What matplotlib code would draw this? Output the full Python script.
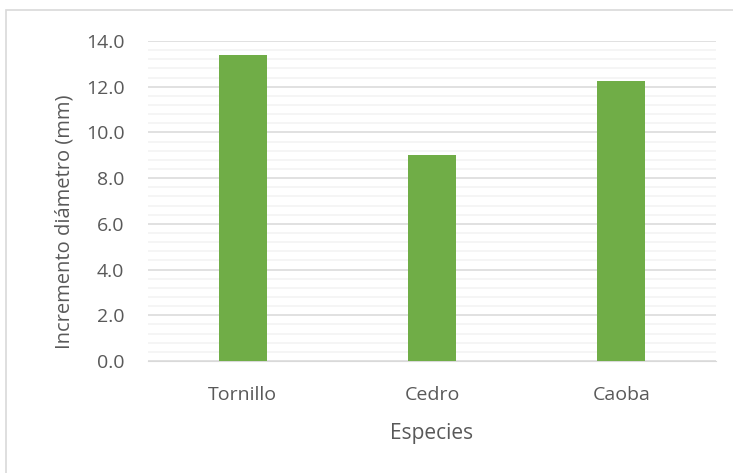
import matplotlib.pyplot as plt
from matplotlib.patches import Rectangle
from matplotlib.ticker import MultipleLocator

especies = ['Tornillo', 'Cedro', 'Caoba']
incremento = [13.4, 9.0, 12.25]

plt.rcParams['font.family'] = ['Open Sans', 'DejaVu Sans']

fig = plt.figure(figsize=(7.33, 4.73), dpi=100)
ax = fig.add_axes([0.2019, 0.2368, 0.7749, 0.6765])

# chart border
fig.patches.append(Rectangle((6 / 733, -0.1), 1.0, 1 - 10 / 473 + 0.1,
                             transform=fig.transFigure, fill=False,
                             edgecolor='#d9d9d9', linewidth=1.2))

x = range(len(especies))
ax.bar(x, incremento, width=0.255, color='#70ad47', zorder=3)

ax.set_ylim(0, 14)
ax.set_xlim(-0.5, 2.5)
ax.yaxis.set_minor_locator(MultipleLocator(0.4))
ax.set_yticks([i * 2 for i in range(8)])
ax.set_yticklabels([f'{i * 2:.1f}' for i in range(8)])
ax.set_xticks(list(x))
ax.set_xticklabels(especies)

ax.grid(axis='y', which='major', color='#d9d9d9', linewidth=1.1, zorder=0)
ax.grid(axis='y', which='minor', color='#f2f2f2', linewidth=1.1, zorder=0)

for s in ['top', 'right', 'left']:
    ax.spines[s].set_visible(False)
ax.spines['bottom'].set_color('#d9d9d9')

ax.tick_params(axis='both', which='both', length=0, labelsize=14, colors='#595959')
ax.tick_params(axis='x', pad=18)
ax.tick_params(axis='y', pad=17)

ax.set_xlabel('Especies', fontsize=15, color='#595959', labelpad=14)
ax.set_ylabel('Incremento diámetro (mm)', fontsize=14.5, color='#595959', labelpad=10)
ax.yaxis.set_label_coords(-0.13, 0.435)

fig.savefig('out.png', dpi=100)
